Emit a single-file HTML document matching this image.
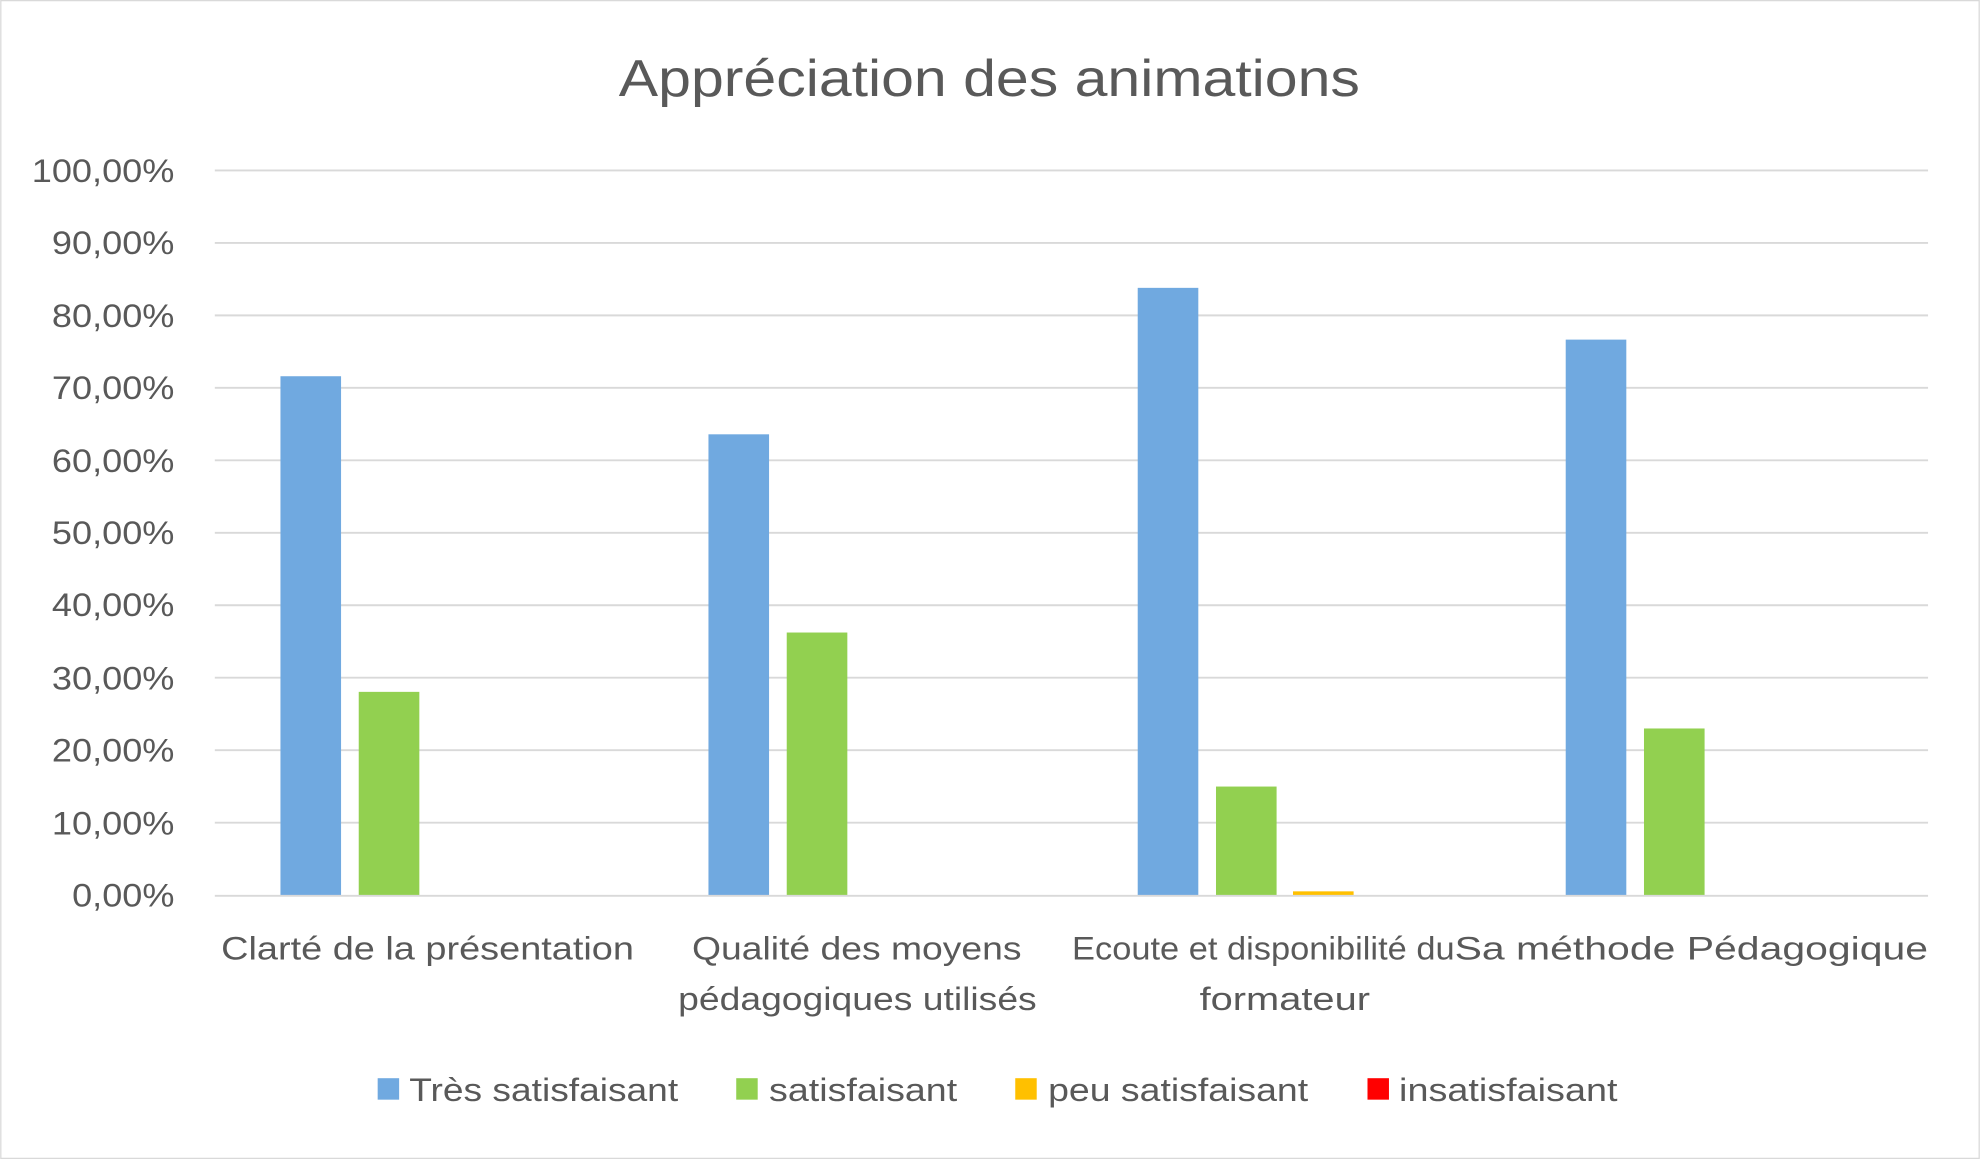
<!DOCTYPE html>
<html><head><meta charset="utf-8"><style>
html,body{margin:0;padding:0;background:#fff;}
svg{display:block;}
text{font-family:"Liberation Sans","DejaVu Sans",sans-serif;fill:#595959;}
</style></head><body>
<svg width="1980" height="1159" viewBox="0 0 1568 918" xmlns="http://www.w3.org/2000/svg">
<rect x="0.5" y="0.5" width="1567" height="917" fill="#fff" stroke="#d9d9d9"/>
<text x="490" y="76" font-size="41" textLength="587" lengthAdjust="spacingAndGlyphs">Appréciation des animations</text>
<g stroke="#d9d9d9" stroke-width="1.5">
<line x1="170" x2="1527" y1="135" y2="135"/>
<line x1="170" x2="1527" y1="192.4" y2="192.4"/>
<line x1="170" x2="1527" y1="249.8" y2="249.8"/>
<line x1="170" x2="1527" y1="307.2" y2="307.2"/>
<line x1="170" x2="1527" y1="364.6" y2="364.6"/>
<line x1="170" x2="1527" y1="422" y2="422"/>
<line x1="170" x2="1527" y1="479.4" y2="479.4"/>
<line x1="170" x2="1527" y1="536.8" y2="536.8"/>
<line x1="170" x2="1527" y1="594.2" y2="594.2"/>
<line x1="170" x2="1527" y1="651.6" y2="651.6"/>
</g>
<g font-size="26">
<text x="25" y="144" textLength="113" lengthAdjust="spacingAndGlyphs">100,00%</text>
<text x="41" y="201" textLength="97" lengthAdjust="spacingAndGlyphs">90,00%</text>
<text x="41" y="259" textLength="97" lengthAdjust="spacingAndGlyphs">80,00%</text>
<text x="41" y="316" textLength="97" lengthAdjust="spacingAndGlyphs">70,00%</text>
<text x="41" y="374" textLength="97" lengthAdjust="spacingAndGlyphs">60,00%</text>
<text x="41" y="431" textLength="97" lengthAdjust="spacingAndGlyphs">50,00%</text>
<text x="41" y="488" textLength="97" lengthAdjust="spacingAndGlyphs">40,00%</text>
<text x="41" y="546" textLength="97" lengthAdjust="spacingAndGlyphs">30,00%</text>
<text x="41" y="603" textLength="97" lengthAdjust="spacingAndGlyphs">20,00%</text>
<text x="41" y="661" textLength="97" lengthAdjust="spacingAndGlyphs">10,00%</text>
<text x="57" y="718" textLength="81" lengthAdjust="spacingAndGlyphs">0,00%</text>
</g>
<g fill="#70a9e0">
<rect x="222" y="298" width="48" height="411"/>
<rect x="561" y="344" width="48" height="365"/>
<rect x="901" y="228" width="48" height="481"/>
<rect x="1240" y="269" width="48" height="440"/>
</g>
<g fill="#92d050">
<rect x="284" y="548" width="48" height="161"/>
<rect x="623" y="501" width="48" height="208"/>
<rect x="963" y="623" width="48" height="86"/>
<rect x="1302" y="577" width="48" height="132"/>
</g>
<rect x="1024" y="706" width="48" height="3" fill="#ffc000"/>
<line x1="170" x2="1527" y1="709.5" y2="709.5" stroke="#d9d9d9" stroke-width="1.5"/>
<g font-size="26">
<text x="175" y="760" textLength="327" lengthAdjust="spacingAndGlyphs">Clarté de la présentation</text>
<text x="548" y="760" textLength="261" lengthAdjust="spacingAndGlyphs">Qualité des moyens</text>
<text x="537" y="800" textLength="284" lengthAdjust="spacingAndGlyphs">pédagogiques utilisés</text>
<text x="849" y="760" textLength="303" lengthAdjust="spacingAndGlyphs">Ecoute et disponibilité du</text>
<text x="950" y="800" textLength="135" lengthAdjust="spacingAndGlyphs">formateur</text>
<text x="1152" y="760" textLength="375" lengthAdjust="spacingAndGlyphs">Sa méthode Pédagogique</text>
</g>
<g font-size="26">
<rect x="299" y="854" width="17" height="17" fill="#70a9e0"/>
<text x="324" y="872" textLength="213" lengthAdjust="spacingAndGlyphs">Très satisfaisant</text>
<rect x="583" y="854" width="17" height="17" fill="#92d050"/>
<text x="609" y="872" textLength="149" lengthAdjust="spacingAndGlyphs">satisfaisant</text>
<rect x="804" y="854" width="17" height="17" fill="#ffc000"/>
<text x="830" y="872" textLength="206" lengthAdjust="spacingAndGlyphs">peu satisfaisant</text>
<rect x="1083" y="854" width="17" height="17" fill="#ff0000"/>
<text x="1108" y="872" textLength="173" lengthAdjust="spacingAndGlyphs">insatisfaisant</text>
</g>
</svg>
</body></html>
